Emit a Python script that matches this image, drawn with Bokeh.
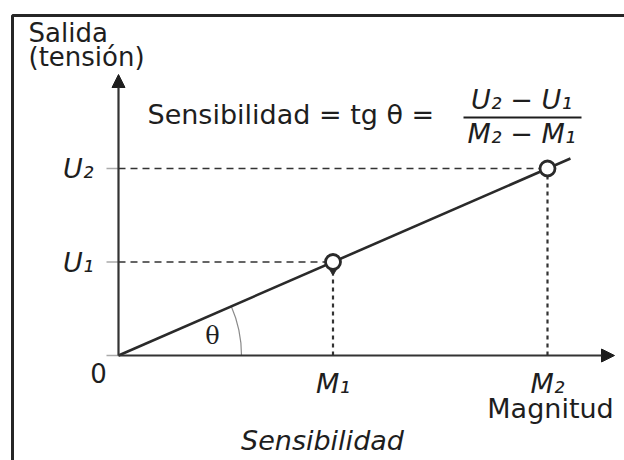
import math
from bokeh.plotting import figure
from bokeh.models import Label, Arrow, NormalHead
from bokeh.embed import file_html
from bokeh.resources import INLINE

# ---- data -------------------------------------------------------------
magnitude = [0.0, 1.0, 2.0]          # origin, M1, M2
output = [0.0, 1.0, 2.0]             # origin, U1, U2
x_tick_labels = ["M₁", "M₂"]
y_tick_labels = ["U₁", "U₂"]
line_extent = 2.107                  # response line continues slightly past M2
origin_label = "0"
x_title = "Magnitud"
y_title = ["Salida", "(tensión)"]
formula_left = "Sensibilidad = tg θ ="
formula_num = "U₂ − U₁"
formula_den = "M₂ − M₁"
caption = "Sensibilidad"
angle_label = "θ"

# ---- layout helpers (picture pixel -> data) ---------------------------
OX, OY = 118, 355      # pixel of origin
KX, KY = 214.5, 93.5   # pixels per data unit
W, H = 624, 460


def X(px):
    return (px - OX) / KX


def Y(py):
    return (OY - py) / KY


FONT = "DejaVu Sans"
INK = "#1e1e1e"

p = figure(width=W, height=H, output_backend="svg", toolbar_location=None,
           x_range=(X(0), X(W)), y_range=(Y(H), Y(0)),
           x_axis_type=None, y_axis_type=None, min_border=0)
p.grid.visible = False
p.outline_line_color = None
p.background_fill_color = "white"
p.border_fill_color = "white"

# frame border (left + top; right/bottom lie outside the picture)
p.line(x=[X(12), X(12), X(700)], y=[Y(600), Y(15), Y(15)], line_width=3, color="#262626")

# small tick marks on y axis
p.segment(x0=[X(106)] * 3, y0=output, x1=[0] * 3, y1=output, line_color="#aaaaaa", line_width=1.5)

# axes with arrows
head = dict(size=13, fill_color=INK, line_color=INK, line_width=1)
p.add_layout(Arrow(x_start=0, y_start=0, x_end=X(614), y_end=0, line_width=2.2,
                   line_color="#333333", end=NormalHead(**head)))
p.add_layout(Arrow(x_start=0, y_start=0, x_end=0, y_end=Y(74), line_width=2.2,
                   line_color="#333333", end=NormalHead(**head)))

# dashed guides
for m, u in zip(magnitude[1:], output[1:]):
    p.line(x=[0, m], y=[u, u], line_dash="7 5", line_width=1.6, color="#333333")
    p.line(x=[m, m], y=[0, u], line_dash="4 4", line_width=2.2, color="#333333")

# theta arc
ang = math.atan2(output[1] * KY, magnitude[1] * KX)
p.arc(x=0, y=0, radius=123, radius_units="screen", start_angle=0, end_angle=ang,
      line_color="#8a8a8a", line_width=1.2)

# response line
p.line(x=[0, line_extent], y=[0, line_extent], line_width=2.6, color="#2a2a2a")

# teardrop tip under M1 point
p.scatter(x=[magnitude[1]], y=[output[1] - 7 / KY], marker="inverted_triangle",
          size=11, color="#2a2a2a")
p.scatter(x=magnitude[1:], y=output[1:], size=15, fill_color="white",
          line_color="#2a2a2a", line_width=2.8)


def lab(text, x, y, size=26, align="left", baseline="middle", style="normal",
        font=FONT, xo=0, yo=0, color=INK):
    p.add_layout(Label(x=x, y=y, text=text, text_font=font,
                       text_font_size=f"{size}px", text_align=align,
                       text_baseline=baseline, text_font_style=style,
                       text_color=color, x_offset=xo, y_offset=yo))


# y title
lab(y_title[0], X(28), Y(32))
lab(y_title[1], X(28), Y(56))

# formula
lab(formula_left, X(147), Y(114), size=27)
lab(formula_num, X(521), Y(99), size=27, align="center", style="italic")
p.line(x=[X(463), X(581)], y=[Y(117), Y(117)], line_width=2.2, color=INK)
lab(formula_den, X(521), Y(133), size=27, align="center", style="italic")

# tick labels
for u, t in zip(output[1:], y_tick_labels):
    lab(t, 0, u, size=27, align="right", baseline="middle", style="italic", xo=-25)
for m, t in zip(magnitude[1:], x_tick_labels):
    lab(t, m, 0, size=27, align="center", baseline="middle", style="italic", yo=-28)
lab(origin_label, 0, 0, align="center", baseline="middle", xo=-20, yo=-17)

# x title, theta, caption
lab(x_title, X(550), Y(408), size=27, align="center", baseline="middle")
lab(angle_label, X(212), Y(335), size=24, align="center", baseline="middle", font="DejaVu Serif")
lab(caption, X(322), Y(440), size=27, align="center", baseline="middle", style="italic")

open("out.html", "w").write(file_html(p, INLINE))
